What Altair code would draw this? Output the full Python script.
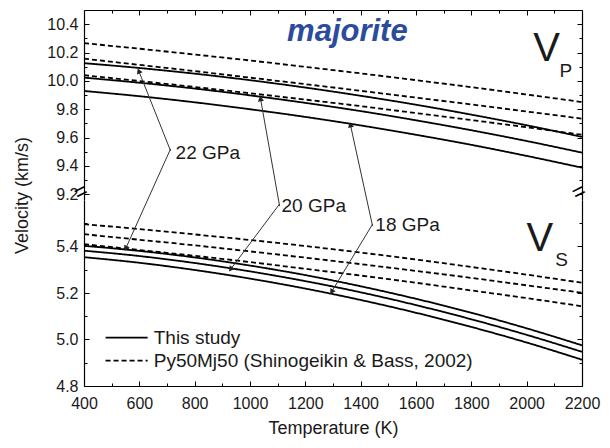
import altair as alt
import pandas as pd

FONT = "Liberation Sans"

# ---------------- data ----------------
T = [400, 600, 800, 1000, 1200, 1400, 1600, 1800, 2000, 2200]
T_major = [400, 600, 800, 1000, 1200, 1400, 1600, 1800, 2000, 2200]
T_minor = [500, 700, 900, 1100, 1300, 1500, 1700, 1900, 2100]

# Vp, this study (solid)
vp_this_22 = [10.125, 10.091, 10.051, 10.005, 9.953, 9.895, 9.832, 9.762, 9.687, 9.605]
vp_this_20 = [10.023, 9.987, 9.946, 9.898, 9.845, 9.787, 9.722, 9.652, 9.576, 9.494]
vp_this_18 = [9.929, 9.892, 9.849, 9.800, 9.746, 9.686, 9.620, 9.549, 9.471, 9.388]
# Vp, Py50Mj50 Shinogeikin & Bass 2002 (dashed)
vp_sb_22 = [10.266, 10.227, 10.186, 10.144, 10.099, 10.053, 10.005, 9.956, 9.904, 9.851]
vp_sb_20 = [10.157, 10.113, 10.069, 10.023, 9.977, 9.930, 9.882, 9.834, 9.784, 9.734]
vp_sb_18 = [10.040, 9.999, 9.957, 9.913, 9.868, 9.822, 9.773, 9.724, 9.673, 9.620]
# Vs, this study (solid)
vs_this_22 = [5.403, 5.381, 5.353, 5.318, 5.277, 5.229, 5.175, 5.115, 5.048, 4.975]
vs_this_20 = [5.382, 5.359, 5.329, 5.293, 5.251, 5.203, 5.148, 5.087, 5.020, 4.947]
vs_this_18 = [5.354, 5.330, 5.299, 5.262, 5.219, 5.170, 5.115, 5.054, 4.987, 4.913]
# Vs, Shinogeikin & Bass (dashed)
vs_sb_22 = [5.496, 5.475, 5.452, 5.428, 5.402, 5.374, 5.344, 5.312, 5.279, 5.244]
vs_sb_20 = [5.453, 5.429, 5.405, 5.379, 5.352, 5.324, 5.295, 5.265, 5.233, 5.201]
vs_sb_18 = [5.410, 5.385, 5.360, 5.333, 5.304, 5.275, 5.244, 5.211, 5.178, 5.143]

up_domain = [9.16, 10.5]
lo_domain = [4.8, 5.6]
up_major = [9.2, 9.4, 9.6, 9.8, 10.0, 10.2, 10.4]
up_minor = [9.3, 9.5, 9.7, 9.9, 10.1, 10.3]
lo_major = [4.8, 5.0, 5.2, 5.4]
lo_minor = [4.9, 5.1, 5.3, 5.5]

# pressure labels with arrows (panel, vertex T/v, tip T/v, arrow-head angle)
arrow_panel = ["up", "lo", "up", "lo", "up", "lo"]
arrow_T0 = [713, 713, 1107, 1107, 1443, 1443]
arrow_v0 = [9.506, 5.820, 9.117, 5.583, 8.976, 5.496]
arrow_T1 = [598, 551, 1038, 930, 1363, 1295]
arrow_v1 = [10.070, 5.392, 9.875, 5.302, 9.690, 5.205]
arrow_ang = [338, 205, 350, 217, 348, 212]

label_text = ["22 GPa", "20 GPa", "18 GPa"]
label_panel = ["up", "lo", "lo"]
label_T = [731, 1114, 1453]
label_v = [9.449, 5.548, 5.466]

legend_text = ["This study", "Py50Mj50 (Shinogeikin & Bass, 2002)"]
legend_src = ["this", "sb"]
legend_v = [5.008, 4.909]
legend_T0 = [478, 478]
legend_T1 = [630, 630]
legend_Ttext = [652, 652]

# ---------------- tables ----------------
def long_df(series):
    rows = []
    for name, src, vals in series:
        for t, v in zip(T, vals):
            rows.append({"T": t, "v": v, "series": name, "src": src})
    return pd.DataFrame(rows)

df_up = long_df([
    ("this22", "this", vp_this_22), ("this20", "this", vp_this_20), ("this18", "this", vp_this_18),
    ("sb22", "sb", vp_sb_22), ("sb20", "sb", vp_sb_20), ("sb18", "sb", vp_sb_18),
])
df_lo = long_df([
    ("this22", "this", vs_this_22), ("this20", "this", vs_this_20), ("this18", "this", vs_this_18),
    ("sb22", "sb", vs_sb_22), ("sb20", "sb", vs_sb_20), ("sb18", "sb", vs_sb_18),
])
arrows = pd.DataFrame({"panel": arrow_panel, "T0": arrow_T0, "v0": arrow_v0,
                       "T1": arrow_T1, "v1": arrow_v1, "ang": arrow_ang})
labels = pd.DataFrame({"text": label_text, "panel": label_panel, "T": label_T, "v": label_v})
legend = pd.DataFrame({"text": legend_text, "src": legend_src, "v": legend_v,
                       "T0": legend_T0, "T1": legend_T1, "Tt": legend_Ttext})

W = 498
H_UP = 190
H_LO = 186
XSCALE = alt.Scale(domain=[400, 2200], nice=False, zero=False)
DASH = alt.Scale(domain=["this", "sb"], range=[[1, 0], [5, 3]])


def ax(orient, offset, size, values, labels=False, domain=False, ticks=True, **kw):
    kw.setdefault("title", None)
    return alt.Axis(orient=orient, offset=offset, tickSize=size, values=values,
                    labels=labels, domain=domain, ticks=ticks, grid=False,
                    labelFlush=False, labelOverlap=False,
                    tickColor="black", tickWidth=1, domainColor="black",
                    domainWidth=1.2, **kw)


def lines_layer(df, ydom, yaxis, xaxis):
    return alt.Chart(df).mark_line(strokeWidth=1.8, color="black", interpolate="monotone").encode(
        x=alt.X("T:Q", scale=XSCALE, axis=xaxis),
        y=alt.Y("v:Q", scale=alt.Scale(domain=ydom, nice=False, zero=False), axis=yaxis),
        detail="series:N",
        strokeDash=alt.StrokeDash("src:N", scale=DASH, legend=None),
    )


def axis_layer(df, ydom, yaxis, xaxis):
    return alt.Chart(df).mark_line(strokeOpacity=0).encode(
        x=alt.X("T:Q", scale=XSCALE, axis=xaxis),
        y=alt.Y("v:Q", scale=alt.Scale(domain=ydom, nice=False, zero=False), axis=yaxis),
        detail="series:N",
    )


def annotation_layers(panel, ydom):
    ysc = alt.Scale(domain=ydom, nice=False, zero=False)
    a = arrows[arrows.panel == panel]
    l = labels[labels.panel == panel]
    rules = alt.Chart(a).mark_rule(color="#333333", strokeWidth=1).encode(
        x=alt.X("T0:Q", scale=XSCALE, axis=None), x2="T1:Q",
        y=alt.Y("v0:Q", scale=ysc, axis=None), y2="v1:Q",
    )
    heads = alt.Chart(a).mark_point(shape="triangle-up", filled=True, size=38,
                                    color="#222222", opacity=1).encode(
        x=alt.X("T1:Q", scale=XSCALE, axis=None),
        y=alt.Y("v1:Q", scale=ysc, axis=None),
        angle=alt.Angle("ang:Q", scale=None),
    )
    txt = alt.Chart(l).mark_text(font=FONT, fontSize=19, align="left", baseline="alphabetic",
                                 color="#1a1a1a").encode(
        x=alt.X("T:Q", scale=XSCALE, axis=None),
        y=alt.Y("v:Q", scale=ysc, axis=None),
        text="text:N",
    )
    return [rules, heads, txt]


def text_point(txt, t, v, ydom, **kw):
    d = pd.DataFrame({"T": [t], "v": [v], "text": [txt]})
    return alt.Chart(d).mark_text(font=FONT, baseline="alphabetic", align="center", **kw).encode(
        x=alt.X("T:Q", scale=XSCALE, axis=None),
        y=alt.Y("v:Q", scale=alt.Scale(domain=ydom, nice=False, zero=False), axis=None),
        text="text:N",
    )


# ---------------- upper panel (Vp) ----------------
yax_main_up = ax("left", -5, 5, up_major, labels=True, format=".1f", labelFont=FONT,
                 labelFontSize=16, labelPadding=6, labelColor="#1a1a1a",
                 title="Velocity (km/s)", titleX=-67, titleY=185, titleAngle=270,
                 titleFont=FONT, titleFontSize=18, titleFontWeight="normal",
                 titleAlign="center", titleBaseline="middle", titleColor="#1a1a1a")
up_layers = [
    lines_layer(df_up, up_domain, yax_main_up, ax("top", -5, 5, T_major)),
    axis_layer(df_up, up_domain, ax("right", -5, 5, up_major), ax("top", -3, 3, T_minor)),
    axis_layer(df_up, up_domain, ax("left", -3, 3, up_minor), ax("top", 0, 0, T_major, ticks=False, domain=True)),
    axis_layer(df_up, up_domain, ax("right", -3, 3, up_minor), None),
    axis_layer(df_up, up_domain, ax("left", 0, 0, up_major, ticks=False, domain=True), None),
    axis_layer(df_up, up_domain, ax("right", 0, 0, up_major, ticks=False, domain=True), None),
] + annotation_layers("up", up_domain) + [
    text_point("majorite", 1352, 10.282, up_domain, fontSize=31, fontWeight="bold",
               fontStyle="italic", color="#2B4C9C"),
    text_point("V", 2072, 10.141, up_domain, fontSize=40, color="#1a1a1a"),
    text_point("P", 2142, 10.028, up_domain, fontSize=19, color="#1a1a1a"),
    text_point("=", 400, 9.174, up_domain, fontSize=22, angle=333, color="black"),
    text_point("=", 2200, 9.174, up_domain, fontSize=22, angle=333, color="black"),
]
upper = alt.layer(*up_layers).properties(width=W, height=H_UP).resolve_axis(x="independent", y="independent")

# ---------------- lower panel (Vs) ----------------
yax_main_lo = ax("left", -5, 5, lo_major, labels=True, format=".1f", labelFont=FONT,
                 labelFontSize=16, labelPadding=6, labelColor="#1a1a1a")
xax_main_lo = ax("bottom", -5, 5, T_major, labels=True, format="d", labelFont=FONT,
                 labelFontSize=16, labelPadding=9, labelColor="#1a1a1a",
                 title="Temperature (K)", titleFont=FONT, titleFontSize=18,
                 titleFontWeight="normal", titlePadding=8, titleColor="#1a1a1a")
leg_rules = alt.Chart(legend).mark_rule(color="black", strokeWidth=1.8).encode(
    x=alt.X("T0:Q", scale=XSCALE, axis=None), x2="T1:Q",
    y=alt.Y("v:Q", scale=alt.Scale(domain=lo_domain, nice=False, zero=False), axis=None),
    strokeDash=alt.StrokeDash("src:N", scale=DASH, legend=None),
)
leg_text = alt.Chart(legend).mark_text(font=FONT, fontSize=19, align="left", baseline="middle",
                                       color="#1a1a1a").encode(
    x=alt.X("Tt:Q", scale=XSCALE, axis=None),
    y=alt.Y("v:Q", scale=alt.Scale(domain=lo_domain, nice=False, zero=False), axis=None),
    text="text:N",
)
lo_layers = [
    lines_layer(df_lo, lo_domain, yax_main_lo, xax_main_lo),
    axis_layer(df_lo, lo_domain, ax("right", -5, 5, lo_major), ax("bottom", -3, 3, T_minor)),
    axis_layer(df_lo, lo_domain, ax("left", -3, 3, lo_minor), ax("bottom", 0, 0, T_major, ticks=False, domain=True)),
    axis_layer(df_lo, lo_domain, ax("right", -3, 3, lo_minor), None),
    axis_layer(df_lo, lo_domain, ax("left", 0, 0, lo_major, ticks=False, domain=True), None),
    axis_layer(df_lo, lo_domain, ax("right", 0, 0, lo_major, ticks=False, domain=True), None),
] + annotation_layers("lo", lo_domain) + [
    leg_rules, leg_text,
    text_point("V", 2048, 5.380, lo_domain, fontSize=40, color="#1a1a1a"),
    text_point("S", 2126, 5.315, lo_domain, fontSize=19, color="#1a1a1a"),
]
lower = alt.layer(*lo_layers).properties(width=W, height=H_LO).resolve_axis(x="independent", y="independent")

chart = alt.vconcat(upper, lower, spacing=0, bounds="flush").properties(
    padding={"left": 13, "top": 9, "right": 5, "bottom": 5},
    background="white",
).configure_view(stroke=None)

chart.save("out.html", embed_options={"renderer": "svg", "actions": False})
